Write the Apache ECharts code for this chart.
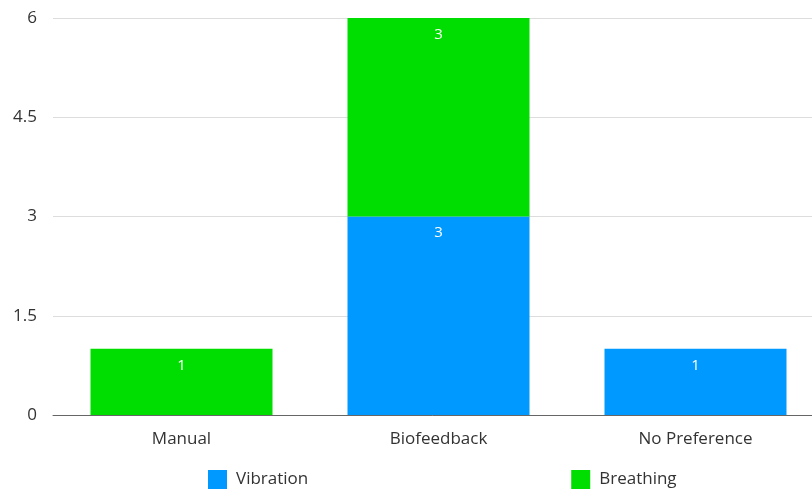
<!DOCTYPE html>
<html>
<head>
<meta charset="utf-8">
<script src="https://cdn.jsdelivr.net/npm/echarts@6/dist/echarts.min.js"></script>
<style>
  html, body { margin: 0; padding: 0; background: #fff; }
  #chart { width: 812px; height: 490px; }
</style>
</head>
<body>
<div id="chart"></div>
<script>
const categories = ['Manual', 'Biofeedback', 'No Preference'];
const vibration = [0, 3, 1];
const breathing = [1, 3, 0];
const yTicks = { min: 0, max: 6, interval: 1.5 };

const fontFamily = '"Open Sans", "Noto Sans", sans-serif';

const barLabel = {
  show: true,
  position: 'insideTop',
  distance: 9,
  color: '#ffffff',
  fontSize: 15,
  fontFamily: fontFamily,
  formatter: p => (p.value ? String(p.value) : '')
};

const chart = echarts.init(document.getElementById('chart'), null, { renderer: 'canvas' });
chart.setOption({
  animation: false,
  backgroundColor: '#ffffff',
  grid: { left: 53, top: 18, width: 771, height: 397, outerBoundsMode: 'none', containLabel: false },
  legend: {
    top: 465,
    left: 203,
    itemWidth: 19,
    itemHeight: 19,
    itemGap: 263,
    icon: 'rect',
    textStyle: { fontSize: 17, color: '#333', fontFamily: fontFamily, padding: [0, 0, 0, 4] },
    data: ['Vibration', 'Breathing']
  },
  xAxis: {
    type: 'category',
    data: categories,
    axisLine: { lineStyle: { color: '#666', width: 1 } },
    axisTick: { show: false },
    axisLabel: { color: '#333', fontSize: 17, margin: 16, fontFamily: fontFamily }
  },
  yAxis: {
    type: 'value',
    min: yTicks.min,
    max: yTicks.max,
    interval: yTicks.interval,
    axisLine: { show: false },
    axisTick: { show: false },
    axisLabel: { color: '#333', fontSize: 17, margin: 16, fontFamily: fontFamily },
    splitLine: { lineStyle: { color: '#dddddd', width: 1 } }
  },
  series: [
    {
      name: 'Vibration',
      type: 'bar',
      stack: 'total',
      barWidth: 182,
      data: vibration,
      itemStyle: { color: '#0099ff' },
      label: barLabel
    },
    {
      name: 'Breathing',
      type: 'bar',
      stack: 'total',
      barWidth: 182,
      data: breathing,
      itemStyle: { color: '#00dd00' },
      label: barLabel
    }
  ]
});
</script>
</body>
</html>
